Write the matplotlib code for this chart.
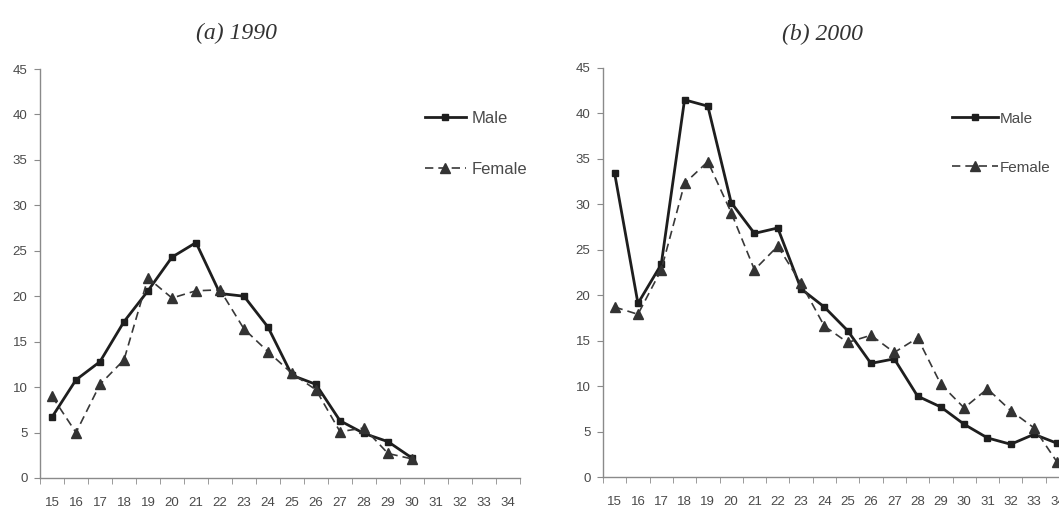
import numpy as np
import matplotlib
matplotlib.use("Agg")
import matplotlib.pyplot as plt

plt.rcParams['font.family'] = ['Liberation Sans', 'DejaVu Sans']

# Alter (Kategorien)
ages = list(range(15, 35))

# (a) 1990
male_1990 = [6.7, 10.8, 12.8, 17.2, 20.6, 24.3, 25.9, 20.3, 20.0, 16.6,
             11.3, 10.3, 6.3, 4.9, 4.0, 2.2]
female_1990 = [9.0, 5.0, 10.3, 13.0, 22.0, 19.8, 20.6, 20.7, 16.4, 13.9,
               11.5, 9.7, 5.1, 5.5, 2.7, 2.1]

# (b) 2000
male_2000 = [33.4, 19.1, 23.4, 41.5, 40.8, 30.2, 26.8, 27.4, 20.7, 18.7,
             16.1, 12.5, 13.0, 8.9, 7.7, 5.8, 4.3, 3.6, 4.7, 3.7]
female_2000 = [18.7, 17.9, 22.8, 32.3, 34.7, 29.1, 22.8, 25.4, 21.3, 16.6,
               14.8, 15.6, 13.7, 15.3, 10.2, 7.6, 9.7, 7.3, 5.4, 1.6]

yticks = [0, 5, 10, 15, 20, 25, 30, 35, 40, 45]

W, H = 1059, 509
fig = plt.figure(figsize=(W / 100, H / 100), dpi=100)

line_col = '#1e1e1e'
fem_col = '#383838'
axis_col = '#8a8a8a'
text_col = '#4a4a4a'


def make_axes(rect):
    ax = fig.add_axes(rect)
    ax.set_xlim(14.5, 34.5)
    ax.set_ylim(0, 45)
    for s in ['top', 'right']:
        ax.spines[s].set_visible(False)
    for s in ['left', 'bottom']:
        ax.spines[s].set_color(axis_col)
        ax.spines[s].set_linewidth(1.0)
    ax.set_xticks(ages)
    ax.set_xticklabels([str(a) for a in ages])
    ax.set_xticks(np.arange(14.5, 35.0, 1.0), minor=True)
    ax.set_yticks(yticks)
    ax.tick_params(axis='x', which='major', length=0, pad=14, labelsize=9.5, labelcolor=text_col)
    ax.tick_params(axis='x', which='minor', length=4, color=axis_col, direction='out')
    ax.tick_params(axis='y', length=4, color=axis_col, pad=5, labelsize=9.5, labelcolor=text_col)
    return ax


# linkes Diagramm
ax1 = make_axes([40 / W, 31 / H, 480 / W, 409 / H])
n1 = len(male_1990)
ax1.plot(ages[:n1], male_1990, color=line_col, lw=2.0, marker='s', ms=5,
         label='Male')
ax1.plot(ages[:n1], female_1990, color=fem_col, lw=1.2, ls=(0, (5, 3)),
         marker='^', ms=7, mfc='#333333', mec='#333333', label='Female')
ax1.legend(loc='upper left', bbox_to_anchor=(0.77, 0.935), frameon=False,
           fontsize=12, handlelength=2.5, handletextpad=0.3, labelspacing=2.2,
           labelcolor=text_col)

# rechtes Diagramm
ax2 = make_axes([603 / W, 32 / H, 466 / W, 409 / H])
ax2.plot(ages, male_2000, color=line_col, lw=2.0, marker='s', ms=5,
         label='Male', clip_on=False)
ax2.plot(ages, female_2000, color=fem_col, lw=1.2, ls=(0, (5, 3)),
         marker='^', ms=7, mfc='#333333', mec='#333333', label='Female', clip_on=False)
ax2.legend(loc='upper left', bbox_to_anchor=(0.72, 0.927), frameon=False,
           fontsize=11, handlelength=3.0, handletextpad=0.1, labelspacing=2.3,
           labelcolor=text_col)

# Titel
fig.text(237 / W, 1 - 33 / H, '(a) 1990', ha='center', va='center',
         family='Liberation Serif', style='italic', fontsize=17, color='#333333')
fig.text(823 / W, 1 - 34 / H, '(b) 2000', ha='center', va='center',
         family='Liberation Serif', style='italic', fontsize=17, color='#333333')

fig.savefig('out.png', dpi=100)
